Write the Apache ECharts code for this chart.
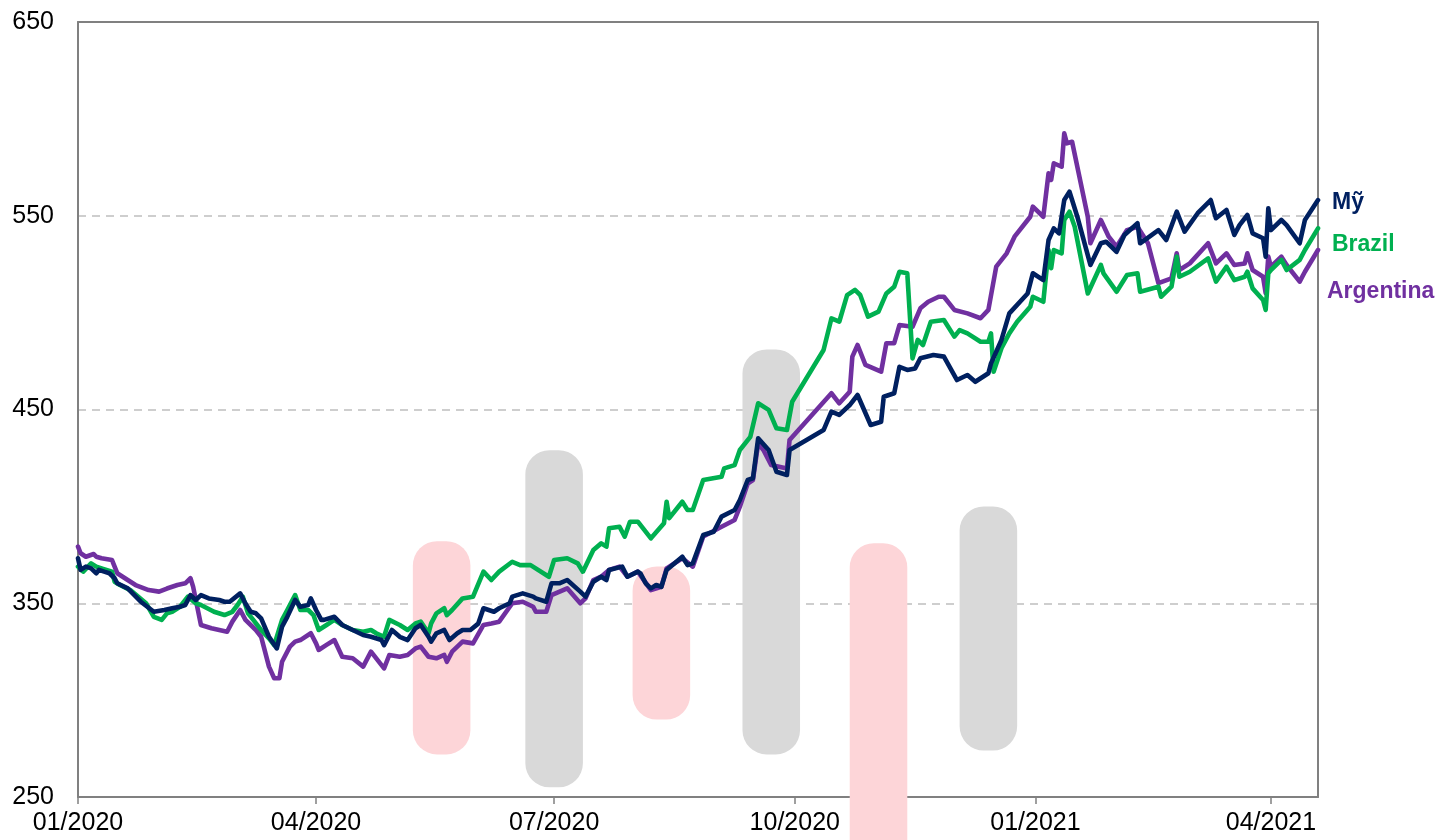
<!DOCTYPE html>
<html>
<head>
<meta charset="utf-8">
<style>
  html, body { margin: 0; padding: 0; background: #ffffff; }
  #chart { width: 1442px; height: 840px; }
</style>
<script src="https://cdn.jsdelivr.net/npm/echarts@6/dist/echarts.min.js"></script>
</head>
<body>
<div id="chart"></div>
<script>
// ---------------- DATA ----------------
const seriesNames = ['Mỹ', 'Brazil', 'Argentina'];

const usDates = ['2020-01-01','2020-01-02','2020-01-04','2020-01-06','2020-01-08','2020-01-09','2020-01-11','2020-01-13','2020-01-15','2020-01-16','2020-01-20','2020-01-25','2020-01-30','2020-02-03','2020-02-06','2020-02-09','2020-02-11','2020-02-13','2020-02-15','2020-02-17','2020-02-20','2020-02-24','2020-02-26','2020-02-28','2020-03-03','2020-03-05','2020-03-07','2020-03-09','2020-03-11','2020-03-14','2020-03-17','2020-03-19','2020-03-21','2020-03-24','2020-03-26','2020-03-29','2020-03-30','2020-04-01','2020-04-03','2020-04-04','2020-04-08','2020-04-11','2020-04-15','2020-04-19','2020-04-22','2020-04-26','2020-04-27','2020-04-30','2020-05-03','2020-05-06','2020-05-09','2020-05-11','2020-05-14','2020-05-15','2020-05-17','2020-05-20','2020-05-22','2020-05-25','2020-05-27','2020-05-30','2020-06-02','2020-06-04','2020-06-08','2020-06-10','2020-06-14','2020-06-15','2020-06-19','2020-06-23','2020-06-24','2020-06-28','2020-06-30','2020-07-03','2020-07-06','2020-07-11','2020-07-13','2020-07-16','2020-07-19','2020-07-21','2020-07-22','2020-07-27','2020-07-29','2020-08-02','2020-08-03','2020-08-05','2020-08-07','2020-08-09','2020-08-11','2020-08-13','2020-08-19','2020-08-21','2020-08-23','2020-08-27','2020-08-31','2020-09-03','2020-09-08','2020-09-10','2020-09-13','2020-09-15','2020-09-17','2020-09-21','2020-09-24','2020-09-28','2020-09-29','2020-10-12','2020-10-15','2020-10-18','2020-10-22','2020-10-25','2020-10-30','2020-11-03','2020-11-04','2020-11-08','2020-11-10','2020-11-13','2020-11-16','2020-11-18','2020-11-23','2020-11-27','2020-12-02','2020-12-06','2020-12-09','2020-12-14','2020-12-15','2020-12-19','2020-12-22','2020-12-29','2020-12-31','2021-01-04','2021-01-06','2021-01-08','2021-01-10','2021-01-12','2021-01-14','2021-01-15','2021-01-17','2021-01-22','2021-01-26','2021-01-28','2021-02-01','2021-02-04','2021-02-09','2021-02-10','2021-02-17','2021-02-20','2021-02-24','2021-02-27','2021-03-04','2021-03-09','2021-03-11','2021-03-15','2021-03-18','2021-03-20','2021-03-23','2021-03-25','2021-03-29','2021-03-30','2021-03-31','2021-04-01','2021-04-05','2021-04-07','2021-04-12','2021-04-14','2021-04-19'];
const usValues = [373.2,367.2,368.9,368.0,365.5,367.2,366.3,365.5,362.9,360.3,357.7,350.8,345.6,346.5,347.4,348.2,349.1,354.2,351.7,354.2,352.5,351.7,350.8,350.8,355.1,349.9,345.6,344.8,342.2,332.7,326.7,337.9,343.0,351.7,348.2,349.1,352.5,346.5,341.4,341.4,343.0,338.8,336.2,333.6,332.7,331.0,328.4,336.2,332.7,331.0,337.1,338.8,332.7,330.2,334.5,336.2,331.0,334.5,336.2,336.2,339.5,347.4,345.6,347.4,350.0,353.4,355.1,353.4,352.5,350.8,360.3,360.3,362.0,356.0,353.4,361.1,363.7,362.0,367.2,368.9,363.7,366.3,365.4,360.3,357.7,359.4,358.5,367.2,374.0,369.7,370.6,385.2,386.9,394.7,398.1,403.3,413.6,414.5,435.1,429.1,417.9,416.2,429.1,439.4,448.9,447.2,452.3,457.5,442.0,443.7,456.6,458.4,472.0,470.4,471.2,476.4,478.1,477.3,465.2,467.8,464.3,468.7,473.8,485.9,499.6,509.9,520.3,516.8,537.5,543.5,540.9,558.1,562.4,558.1,549.5,524.6,535.8,536.6,531.4,540.1,546.1,535.8,542.6,537.5,552.1,541.8,551.3,558.1,548.7,553.0,540.1,545.2,550.4,540.9,538.4,528.9,553.8,542.6,547.8,545.2,535.8,547.8,558.1];

const brDates = ['2020-01-01','2020-01-03','2020-01-06','2020-01-08','2020-01-10','2020-01-14','2020-01-15','2020-01-17','2020-01-21','2020-01-27','2020-01-30','2020-02-02','2020-02-04','2020-02-06','2020-02-09','2020-02-12','2020-02-15','2020-02-17','2020-02-22','2020-02-26','2020-02-29','2020-03-02','2020-03-04','2020-03-06','2020-03-08','2020-03-11','2020-03-14','2020-03-16','2020-03-19','2020-03-21','2020-03-24','2020-03-26','2020-03-29','2020-03-31','2020-04-02','2020-04-05','2020-04-08','2020-04-11','2020-04-15','2020-04-19','2020-04-22','2020-04-24','2020-04-27','2020-04-29','2020-05-03','2020-05-06','2020-05-09','2020-05-11','2020-05-14','2020-05-15','2020-05-17','2020-05-20','2020-05-21','2020-05-23','2020-05-27','2020-05-31','2020-06-04','2020-06-07','2020-06-10','2020-06-15','2020-06-18','2020-06-22','2020-06-29','2020-07-01','2020-07-06','2020-07-10','2020-07-12','2020-07-16','2020-07-19','2020-07-21','2020-07-22','2020-07-26','2020-07-28','2020-07-30','2020-08-02','2020-08-07','2020-08-12','2020-08-13','2020-08-14','2020-08-19','2020-08-21','2020-08-23','2020-08-27','2020-09-03','2020-09-04','2020-09-08','2020-09-10','2020-09-14','2020-09-17','2020-09-21','2020-09-24','2020-09-28','2020-09-30','2020-10-12','2020-10-15','2020-10-18','2020-10-21','2020-10-24','2020-10-26','2020-10-29','2020-11-02','2020-11-05','2020-11-08','2020-11-10','2020-11-13','2020-11-15','2020-11-17','2020-11-19','2020-11-22','2020-11-27','2020-12-01','2020-12-03','2020-12-06','2020-12-11','2020-12-14','2020-12-15','2020-12-16','2020-12-19','2020-12-22','2020-12-25','2020-12-30','2020-12-31','2021-01-04','2021-01-06','2021-01-07','2021-01-08','2021-01-11','2021-01-12','2021-01-14','2021-01-16','2021-01-21','2021-01-26','2021-01-27','2021-02-01','2021-02-05','2021-02-09','2021-02-10','2021-02-17','2021-02-18','2021-02-22','2021-02-24','2021-02-25','2021-03-01','2021-03-08','2021-03-11','2021-03-15','2021-03-18','2021-03-22','2021-03-23','2021-03-25','2021-03-29','2021-03-30','2021-03-31','2021-04-01','2021-04-05','2021-04-07','2021-04-12','2021-04-14','2021-04-19'];
const brValues = [368.9,366.3,370.6,368.9,368.0,366.3,361.1,359.4,356.8,350.0,343.0,341.4,344.8,345.6,348.2,353.4,350.0,349.1,345.6,343.9,345.6,349.1,353.4,344.8,341.4,336.2,331.9,328.4,341.4,346.5,354.2,346.5,346.5,343.9,336.2,338.8,341.4,338.8,336.2,335.3,336.2,334.5,332.7,341.4,338.8,336.2,339.6,340.5,334.5,339.6,344.8,347.4,343.9,346.5,352.5,353.4,366.3,362.0,366.3,371.4,369.7,369.7,363.7,372.3,373.2,370.6,366.3,377.5,380.9,379.2,388.7,389.5,384.4,392.1,392.1,383.5,391.3,402.4,393.9,402.4,398.1,398.1,413.6,415.3,419.6,421.3,429.1,435.9,453.2,449.8,440.3,439.4,454.0,480.7,497.0,495.3,509.0,511.7,509.1,497.9,500.5,509.9,513.4,521.1,520.3,476.4,485.9,483.3,495.3,496.2,487.6,491.0,489.3,485.0,485.0,489.3,469.5,481.6,489.3,495.3,503.0,508.2,505.6,532.3,522.9,532.3,530.6,547.8,552.1,544.3,509.9,524.6,520.3,510.8,519.4,520.3,510.8,513.4,508.2,513.4,528.9,518.5,521.1,528.0,516.0,523.7,516.8,518.5,521.1,512.5,506.5,501.4,520.3,522.0,527.2,522.0,527.2,532.3,543.5];

const arDates = ['2020-01-01','2020-01-02','2020-01-04','2020-01-07','2020-01-08','2020-01-10','2020-01-14','2020-01-16','2020-01-20','2020-01-23','2020-01-28','2020-02-01','2020-02-04','2020-02-08','2020-02-11','2020-02-13','2020-02-14','2020-02-17','2020-02-21','2020-02-27','2020-02-29','2020-03-03','2020-03-05','2020-03-09','2020-03-11','2020-03-12','2020-03-14','2020-03-16','2020-03-18','2020-03-19','2020-03-22','2020-03-24','2020-03-26','2020-03-30','2020-04-01','2020-04-02','2020-04-05','2020-04-08','2020-04-11','2020-04-15','2020-04-19','2020-04-22','2020-04-27','2020-04-29','2020-05-03','2020-05-06','2020-05-09','2020-05-11','2020-05-14','2020-05-17','2020-05-20','2020-05-21','2020-05-23','2020-05-27','2020-05-31','2020-06-04','2020-06-07','2020-06-10','2020-06-15','2020-06-19','2020-06-23','2020-06-24','2020-06-28','2020-06-30','2020-07-06','2020-07-11','2020-07-13','2020-07-16','2020-07-19','2020-07-22','2020-07-26','2020-07-29','2020-08-02','2020-08-07','2020-08-11','2020-08-13','2020-08-19','2020-08-23','2020-08-27','2020-09-03','2020-09-08','2020-09-10','2020-09-13','2020-09-15','2020-09-17','2020-09-19','2020-09-22','2020-09-28','2020-09-29','2020-10-15','2020-10-18','2020-10-22','2020-10-23','2020-10-25','2020-10-28','2020-11-03','2020-11-05','2020-11-08','2020-11-10','2020-11-15','2020-11-18','2020-11-21','2020-11-25','2020-11-27','2020-12-01','2020-12-06','2020-12-11','2020-12-14','2020-12-17','2020-12-21','2020-12-24','2020-12-30','2020-12-31','2021-01-04','2021-01-06','2021-01-07','2021-01-08','2021-01-11','2021-01-12','2021-01-13','2021-01-15','2021-01-21','2021-01-22','2021-01-26','2021-01-29','2021-02-01','2021-02-05','2021-02-09','2021-02-13','2021-02-17','2021-02-22','2021-02-24','2021-02-25','2021-03-01','2021-03-08','2021-03-11','2021-03-15','2021-03-18','2021-03-22','2021-03-23','2021-03-25','2021-03-29','2021-03-30','2021-03-31','2021-04-01','2021-04-05','2021-04-07','2021-04-12','2021-04-14','2021-04-19'];
const arValues = [379.2,375.8,374.0,375.4,374.0,373.2,372.3,365.5,362.0,359.4,356.8,356.0,357.6,359.4,360.3,362.9,358.6,338.8,337.1,335.3,340.5,346.5,341.4,336.2,332.7,327.6,317.3,311.3,311.3,319.8,327.6,330.2,331.0,334.5,329.3,325.9,328.5,331.0,322.4,321.6,317.3,325.0,316.4,323.3,322.4,323.3,326.7,327.6,322.4,321.6,323.3,319.8,325.0,330.2,329.3,338.8,339.6,340.5,350.0,350.8,348.2,345.6,345.6,354.2,357.7,350.0,352.5,362.0,363.7,367.2,368.9,363.7,366.3,356.8,358.5,368.0,373.2,368.9,384.4,389.5,393.0,399.8,411.8,413.6,432.5,429.1,421.3,419.6,434.3,458.4,453.2,459.2,477.3,483.3,473.0,469.5,484.2,484.2,493.6,492.7,502.2,505.6,508.2,508.2,501.4,499.6,497.1,501.4,523.7,530.6,539.2,549.5,554.7,549.5,571.9,568.5,577.1,575.3,592.5,587.4,588.2,549.5,535.8,547.8,539.2,534.0,542.6,544.3,535.8,515.2,517.7,530.6,522.0,525.4,535.8,525.4,530.6,524.6,525.4,530.6,522.0,518.5,510.0,528.9,523.7,528.9,524.6,516.0,521.1,532.3];

// background floating bars: centre date, low, high, kind
const bandDates = ['2020-05-19','2020-07-01','2020-08-11','2020-09-22','2020-11-02','2020-12-14'];
const bandLow   = [272, 255, 290, 272, 215, 274];
const bandHigh  = [382, 429, 369, 481, 381, 400];
const bandKind  = ['pink','grey','pink','grey','pink','grey'];

const xTickDates = ['2020-01-01','2020-04-01','2020-07-01','2020-10-01','2021-01-01','2021-04-01'];
const xRange = ['2020-01-01', '2021-04-19'];
const yTicks = [250, 350, 450, 550, 650];

// ---------------- CHART ----------------
const FONT = '"Liberation Sans", Arial, Helvetica, sans-serif';
const COLORS = { 'Mỹ': '#002060', 'Brazil': '#00B050', 'Argentina': '#7030A0' };
const BAND_COLORS = { pink: '#FDD5D8', grey: '#D9D9D9' };
const ts = s => echarts.number.parseDate(s).getTime();
const DAY = 86400000;
const xMin = ts(xRange[0]);
const xMax = ts(xRange[1]);
const tickVals = xTickDates.map(ts);
const pad2 = n => (n < 10 ? '0' : '') + n;

const zip = (d, v) => d.map((s, i) => [ts(s), v[i]]);
const lineData = {
  'Mỹ': zip(usDates, usValues),
  'Brazil': zip(brDates, brValues),
  'Argentina': zip(arDates, arValues)
};
const labelOffset = { 'Mỹ': [0, 3], 'Brazil': [0, 16], 'Argentina': [-5, 42] };

const bandData = bandDates.map((d, i) => [ts(d), bandLow[i], bandHigh[i]]);

const chart = echarts.init(document.getElementById('chart'), null, { renderer: 'canvas' });

const lineSeries = ['Argentina', 'Brazil', 'Mỹ'].map(name => ({
  name: name,
  type: 'line',
  data: lineData[name],
  showSymbol: false,
  symbol: 'none',
  z: 5,
  lineStyle: { color: COLORS[name], width: 4.6, join: 'round', cap: 'round' },
  itemStyle: { color: COLORS[name] },
  endLabel: {
    show: true,
    formatter: '{a}',
    color: COLORS[name],
    fontFamily: FONT,
    fontWeight: 'bold',
    fontSize: 23,
    distance: 14,
    offset: labelOffset[name]
  }
}));

chart.setOption({
  animation: false,
  backgroundColor: '#ffffff',
  textStyle: { fontFamily: FONT },
  grid: { left: 78, right: 124, top: 22, bottom: 43, containLabel: false },
  xAxis: [{
    type: 'value',
    min: xMin,
    max: xMax,
    axisLine: { show: true, onZero: false, lineStyle: { color: '#808080', width: 2 } },
    axisTick: { show: true, customValues: tickVals, length: 7, lineStyle: { color: '#808080', width: 1.5 } },
    axisLabel: {
      customValues: tickVals,
      showMinLabel: true,
      fontSize: 25, color: '#000', fontFamily: FONT, margin: 14,
      formatter: v => { const d = new Date(v); return pad2(d.getMonth() + 1) + '/' + d.getFullYear(); }
    },
    splitLine: { show: false }
  }, {
    type: 'value',
    position: 'top',
    min: xMin,
    max: xMax,
    axisLine: { show: true, onZero: false, lineStyle: { color: '#808080', width: 2 } },
    axisTick: { show: false },
    axisLabel: { show: false },
    splitLine: { show: false }
  }],
  yAxis: [{
    type: 'value',
    min: yTicks[0],
    max: yTicks[yTicks.length - 1],
    interval: 100,
    axisLine: { show: true, onZero: false, lineStyle: { color: '#808080', width: 2 } },
    axisTick: { show: false },
    axisLabel: { fontSize: 25, color: '#000', fontFamily: FONT, margin: 24 },
    splitLine: { show: true, lineStyle: { color: '#BFBFBF', width: 1.5, type: [8, 6] } }
  }, {
    type: 'value',
    position: 'right',
    min: yTicks[0],
    max: yTicks[yTicks.length - 1],
    interval: 100,
    axisLine: { show: true, onZero: false, lineStyle: { color: '#808080', width: 2 } },
    axisTick: { show: false },
    axisLabel: { show: false },
    splitLine: { show: false }
  }],
  series: [{
    type: 'custom',
    name: 'bands',
    silent: true,
    clip: false,
    z: 1,
    data: bandData,
    encode: { x: 0, y: [1, 2] },
    renderItem: (params, api) => {
      const x = api.value(0);
      const lo = api.value(1);
      const hi = api.value(2);
      const top = api.coord([x, hi]);
      const bot = api.coord([x, lo]);
      const left = api.coord([x - 11 * DAY, hi])[0];
      const right = api.coord([x + 11 * DAY, hi])[0];
      const w = right - left;
      return {
        type: 'rect',
        shape: { x: left, y: top[1], width: w, height: bot[1] - top[1], r: w * 0.42 },
        style: { fill: BAND_COLORS[bandKind[params.dataIndex]] }
      };
    }
  }].concat(lineSeries)
});
</script>
</body>
</html>
